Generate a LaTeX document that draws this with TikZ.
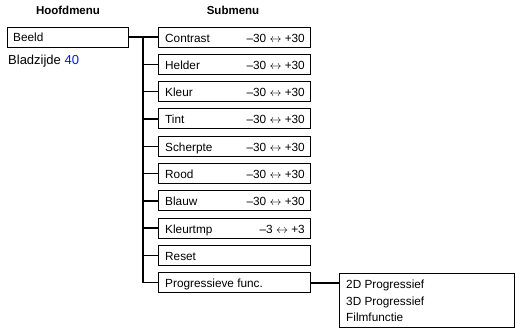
\documentclass[tikz,border=0pt]{standalone}
\usepackage{fontspec}
\setmainfont{Liberation Sans}
\definecolor{linkblue}{RGB}{20,20,230}
\newcommand\arrsz{{\fontsize{12.5}{13}\selectfont$\leftrightarrow$}}
\begin{document}
\begin{tikzpicture}[x=1pt,y=-1pt,
  menubox/.style={draw=black,line width=0.9pt,minimum width=152pt,minimum height=20pt,inner sep=0pt,anchor=west},
  topbox/.style={draw=black,line width=0.9pt,minimum width=121pt,minimum height=20pt,inner sep=0pt,anchor=west},
  lbl/.style={font=\fontsize{11.8}{13}\selectfont,anchor=base west,inner sep=0pt},
  rng/.style={font=\fontsize{11.8}{13}\selectfont,anchor=base east,inner sep=0pt},
  head/.style={font=\bfseries\fontsize{11.5}{13}\selectfont,inner sep=0pt,anchor=base},
  tree/.style={line width=1.4pt}]
\useasboundingbox[fill=white] (0,0) rectangle (516,327);
\node[head] (h1) at (68,14.5) {Hoofdmenu};
\node[head] (h2) at (233,14.5) {Submenu};
\node[topbox] (beeld) at (7,37) {};
\node[lbl] (beeldt) at (13,41.5) {Beeld};
\node[anchor=base west,inner sep=0pt,font=\fontsize{13}{15}\selectfont] (blad) at (8,64.5) {Bladzijde \textcolor{linkblue}{40}};
\coordinate (trunk) at (143,37);
\foreach \i/\name/\r in {0/Contrast/{–30 \arrsz{} +30},1/Helder/{–30 \arrsz{} +30},2/Kleur/{–30 \arrsz{} +30},3/Tint/{–30 \arrsz{} +30},4/Scherpte/{–30 \arrsz{} +30},5/Rood/{–30 \arrsz{} +30},6/Blauw/{–30 \arrsz{} +30},7/Kleurtmp/{–3 \arrsz{} +3},8/Reset/{},9/Progressieve func./{}}{
  \pgfmathsetmacro{\yy}{37+27.3*\i}
  \pgfmathsetmacro{\yb}{\yy+5}
  \node[menubox] (s\i) at (158,\yy) {};
  \node[lbl] (t\i) at (165,\yb) {\name};
  \node[rng] (r\i) at (305,\yb) {\r};
  \coordinate (j\i) at (143,\yy);
  \draw[tree] (j\i) -- (s\i.west);
}
\draw[tree] (beeld.east) -- (trunk);
\draw[tree] (trunk) -- (j9);
\node[draw=black,line width=0.9pt,anchor=north west,minimum width=175pt,minimum height=54pt,inner sep=0pt] (sub) at (339,272.5) {};
\node[lbl] (p1) at (346,288.5) {2D Progressief};
\node[lbl] (p2) at (346,305) {3D Progressief};
\node[lbl] (p3) at (346,321) {Filmfunctie};
\draw[line width=1.8pt] (s9.east) -- (sub.west |- s9.east);
\end{tikzpicture}
\end{document}
